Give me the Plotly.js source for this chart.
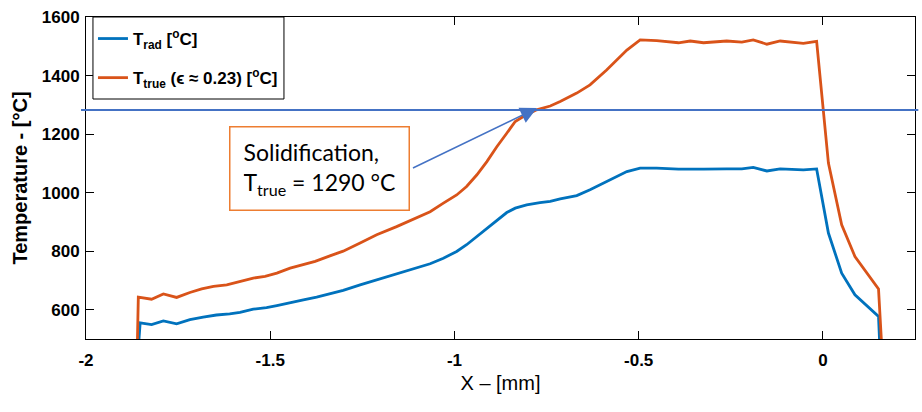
<!DOCTYPE html>
<html>
<head>
<meta charset="utf-8">
<script src="https://cdn.plot.ly/plotly-3.0.1.min.js"></script>
<style>
html, body { margin: 0; padding: 0; background: #ffffff; }
#chart { width: 922px; height: 412px; }
</style>
</head>
<body>
<div id="chart"></div>
<script>
// ---- data ----
const xRad = [-1.862, -1.853, -1.822, -1.790, -1.754, -1.718, -1.682, -1.646, -1.610, -1.582,
  -1.546, -1.510, -1.482, -1.446, -1.410, -1.374, -1.338, -1.302, -1.256, -1.211,
  -1.157, -1.112, -1.066, -1.030, -0.994, -0.967, -0.939, -0.912, -0.885, -0.858,
  -0.835, -0.804, -0.768, -0.740, -0.713, -0.668, -0.632, -0.587, -0.532, -0.496,
  -0.451, -0.392, -0.360, -0.324, -0.261, -0.220, -0.189, -0.152, -0.116, -0.053,
  -0.017, 0.015, 0.051, 0.087, 0.151, 0.157];
const tRad = [400, 555, 549, 562, 552, 566, 575, 582, 586, 591,
  602, 607, 614, 625, 634, 643, 655, 666, 685, 702,
  723, 739, 757, 776, 799, 822, 850, 879, 907, 932,
  947, 958, 966, 970, 979, 990, 1010, 1038, 1072, 1084,
  1084, 1080, 1081, 1080, 1081, 1081, 1086, 1074, 1081, 1078,
  1081, 862, 725, 651, 577, 400];

const xTrue = [-1.862, -1.858, -1.822, -1.790, -1.754, -1.718, -1.686, -1.654, -1.618, -1.582,
  -1.546, -1.514, -1.482, -1.446, -1.410, -1.378, -1.338, -1.302, -1.256, -1.211,
  -1.157, -1.112, -1.066, -1.030, -0.994, -0.967, -0.939, -0.912, -0.885, -0.858,
  -0.835, -0.813, -0.777, -0.740, -0.713, -0.668, -0.632, -0.587, -0.532, -0.496,
  -0.451, -0.392, -0.360, -0.324, -0.261, -0.220, -0.189, -0.152, -0.116, -0.053,
  -0.017, 0.015, 0.051, 0.087, 0.151, 0.163];
const tTrue = [400, 643, 636, 654, 642, 659, 671, 680, 685, 696,
  708, 714, 725, 742, 754, 765, 784, 800, 828, 856,
  884, 910, 935, 964, 992, 1021, 1061, 1106, 1157, 1203,
  1243, 1260, 1283, 1296, 1311, 1340, 1368, 1419, 1487, 1522,
  1519, 1512, 1518, 1512, 1518, 1514, 1522, 1507, 1518, 1510,
  1517, 1101, 890, 782, 671, 400];

const xTickVals = [-2, -1.5, -1, -0.5, 0];
const xTickText = ['-2', '-1.5', '-1', '-0.5', '0'];
const yTickVals = [600, 800, 1000, 1200, 1400, 1600];
const yTickText = ['600', '800', '1000', '1200', '1400', '1600'];

const solidLine = 1282;          // horizontal reference line
const arrowTip = [-0.776, 1289]; // solidification point
const arrowTail = [-1.118, 1081];
const boxCenter = [-1.3675, 1084];

const nameRad = 'T<sub>rad</sub> [<sup>o</sup>C]';
const nameTrue = 'T<sub>true</sub> (ϵ ≈ 0.23) [<sup>o</sup>C]';
const boxText = 'Solidification,<br>T<sub>true</sub> = 1290 °C';

const boldFont = {family: 'Liberation Sans, Arial, sans-serif', size: 17, color: '#000000', weight: 'bold'};

const traces = [
  {x: xRad, y: tRad, type: 'scatter', mode: 'lines', name: nameRad, legendgroup: 'a',
   line: {color: '#0072BD', width: 2.8}},
  {x: xTrue, y: tTrue, type: 'scatter', mode: 'lines', name: nameTrue, legendgroup: 'b',
   line: {color: '#D95319', width: 2.8}}
];

const axisCommon = {
  ticks: 'inside', ticklen: 8, tickwidth: 1, tickcolor: '#000000',
  showline: true, linecolor: '#000000', linewidth: 1, mirror: 'ticks',
  showgrid: false, zeroline: false, tickfont: boldFont, tickmode: 'array'
};

const layout = {
  width: 922, height: 412,
  margin: {l: 86, r: 7, t: 17, b: 73, pad: 0},
  paper_bgcolor: '#ffffff', plot_bgcolor: '#ffffff',
  showlegend: true,
  legend: {
    x: 0.0084, y: 0.9876, xanchor: 'left', yanchor: 'top',
    bgcolor: 'rgba(255,255,255,0)', borderwidth: 0,
    font: boldFont, tracegroupgap: 14, traceorder: 'grouped'
  },
  xaxis: Object.assign({}, axisCommon, {
    range: [-2, 0.25], tickvals: xTickVals, ticktext: xTickText, ticklabelstandoff: 6,
    title: {text: 'X – [mm]', standoff: 6,
            font: {family: 'Liberation Sans Narrow, Liberation Sans, Arial, sans-serif', size: 20, color: '#000000'}}
  }),
  yaxis: Object.assign({}, axisCommon, {
    range: [500, 1600], tickvals: yTickVals, ticktext: yTickText, ticklabelstandoff: 2,
    title: {text: 'Temperature - [°C]', standoff: 8,
            font: {family: 'Liberation Sans, Arial, sans-serif', size: 20, color: '#000000', weight: 'bold'}}
  }),
  shapes: [
    {type: 'rect', xref: 'paper', yref: 'paper', x0: 0.0084, x1: 0.2388, y0: 0.7453, y1: 1,
     line: {color: '#000000', width: 1}, fillcolor: '#ffffff', layer: 'above'},
    {type: 'line', xref: 'paper', yref: 'y', x0: -0.006, x1: 1.004, y0: solidLine, y1: solidLine,
     line: {color: '#4472C4', width: 2}, layer: 'above'}
  ],
  annotations: [
    {x: arrowTip[0], y: arrowTip[1], xref: 'x', yref: 'y',
     ax: arrowTail[0], ay: arrowTail[1], axref: 'x', ayref: 'y',
     text: ' ', showarrow: true, arrowhead: 2, arrowsize: 2.2, arrowwidth: 1.5,
     arrowcolor: '#4472C4', standoff: 0, font: {size: 4}},
    {x: boxCenter[0], y: boxCenter[1], xref: 'x', yref: 'y', showarrow: false,
     text: boxText, align: 'left', width: 152, height: 56, borderpad: 13,
     bordercolor: '#ED7D31', borderwidth: 1.5, bgcolor: '#ffffff',
     font: {family: 'Lato, Open Sans, sans-serif', size: 23, color: '#000000'}}
  ]
};

Plotly.newPlot('chart', traces, layout, {displayModeBar: false, staticPlot: true});
</script>
</body>
</html>
